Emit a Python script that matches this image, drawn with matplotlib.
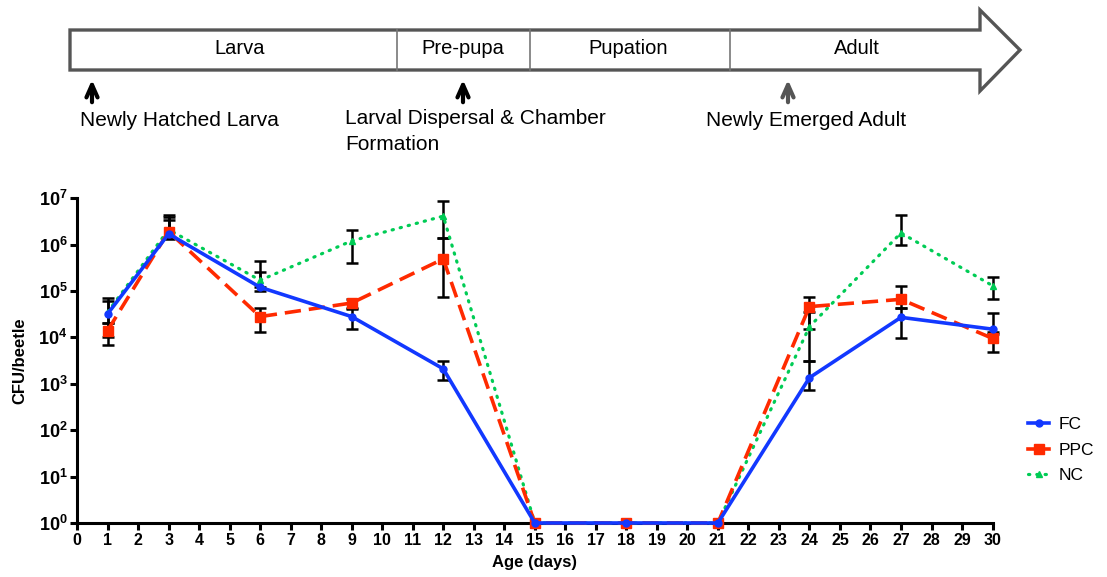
import matplotlib
matplotlib.use('Agg')
import matplotlib.pyplot as plt
from matplotlib.lines import Line2D
from matplotlib.patches import Polygon
import numpy as np

plt.rcParams['font.family'] = ['Liberation Sans', 'DejaVu Sans']
plt.rcParams['mathtext.fontset'] = 'custom'
plt.rcParams['mathtext.bf'] = 'Liberation Sans:bold'
plt.rcParams['mathtext.rm'] = 'Liberation Sans:bold'

# --- data (CFU/beetle, mean and error bar ends) ---
days = [1, 3, 6, 9, 12, 15, 18, 21, 24, 27, 30]

fc     = [3.2e4, 1.7e6, 1.2e5, 2.8e4, 2.1e3, 1, 1, 1, 1.35e3, 2.7e4, 1.5e4]
fc_lo  = [2.0e4, 1.4e6, 1.0e5, 1.5e4, 1.2e3, 1, 1, 1, 7.3e2, 9.8e3, 1.2e4]
fc_hi  = [6.0e4, 3.4e6, 2.5e5, 4.0e4, 3.1e3, 1, 1, 1, 3.1e3, 4.4e4, 3.3e4]

ppc    = [1.4e4, 1.9e6, 2.8e4, 5.5e4, 4.9e5, 1, 1, 1, 4.6e4, 6.6e4, 9.5e3]
ppc_lo = [7.0e3, 1.35e6, 1.3e4, 4.4e4, 7.3e4, 1, 1, 1, 1.55e4, 4.4e4, 4.9e3]
ppc_hi = [2.0e4, 4.3e6, 4.4e4, 6.6e4, 1.4e6, 1, 1, 1, 7.4e4, 1.3e5, 1.3e4]

nc     = [3.5e4, 2.1e6, 1.7e5, 1.2e6, 4.1e6, 1, 1, 1, 1.7e4, 1.78e6, 1.3e5]
nc_lo  = [1.0e4, 1.4e6, 1.2e5, 4.0e5, 1.4e6, 1, 1, 1, 3.1e3, 1.0e6, 6.7e4]
nc_hi  = [7.1e4, 4.0e6, 4.5e5, 2.1e6, 8.5e6, 1, 1, 1, 3.6e4, 4.4e6, 2.0e5]

xtick_labels = [str(d) for d in range(0, 31)]
ytick_exp = [0, 1, 2, 3, 4, 5, 6, 7]

stages = ['Larva', 'Pre-pupa', 'Pupation', 'Adult']
events = ['Newly Hatched Larva', 'Larval Dispersal & Chamber\nFormation', 'Newly Emerged Adult']

# colours
c_fc = '#1238ff'
c_ppc = '#ff2a00'
c_nc = '#00cc55'

fig = plt.figure(figsize=(11.07, 5.77), dpi=100)

# --- top life-stage diagram, drawn in pixel coords ---
dax = fig.add_axes([0, 0, 1, 1])
dax.set_xlim(0, 1107)
dax.set_ylim(577, 0)
dax.axis('off')

arrow = Polygon([(70, 30), (980, 30), (980, 10), (1020, 50), (980, 91), (980, 70), (70, 70)],
                closed=True, facecolor='white', edgecolor='#555555', lw=2.4)
dax.add_patch(arrow)
for xd in [397, 530, 730]:
    dax.plot([xd, xd], [30, 70], color='#777777', lw=1.2)

stage_x = [240, 463, 628, 857]
for s, xs in zip(stages, stage_x):
    dax.text(xs, 48, s, ha='center', va='center', fontsize=14.5)

# event arrows
arrow_x = [92, 463, 788]
arrow_col = ['black', 'black', '#555555']
for xa, ca in zip(arrow_x, arrow_col):
    dax.annotate('', xy=(xa, 77), xytext=(xa, 105),
                 arrowprops=dict(arrowstyle='->,head_length=0.9,head_width=0.4',
                                 color=ca, lw=3.0))

dax.text(80, 120, events[0], ha='left', va='center', fontsize=15)
dax.text(345, 109, events[1], ha='left', va='top', fontsize=15, linespacing=1.45)
dax.text(706, 121, events[2], ha='left', va='center', fontsize=15)

# --- main plot ---
ax = fig.add_axes([0.0696, 0.0936, 0.827, 0.563])
ax.set_yscale('log')

x = np.array(days)
series = [
    (nc, nc_lo, nc_hi),
    (ppc, ppc_lo, ppc_hi),
    (fc, fc_lo, fc_hi),
]
for m, lo, hi in series:
    m = np.array(m); lo = np.array(lo); hi = np.array(hi)
    keep = m > 1
    ax.errorbar(x[keep], m[keep], yerr=[m[keep] - lo[keep], hi[keep] - m[keep]],
                fmt='none', ecolor='black', elinewidth=1.8, capsize=4, capthick=1.8,
                zorder=2, clip_on=False)

ax.plot(days, nc, color=c_nc, lw=2.3, linestyle=(0, (0.4, 2.2)), dash_capstyle='round',
        marker='^', ms=5, zorder=3, clip_on=False)
ax.plot(days, ppc, color=c_ppc, lw=2.6, linestyle=(0, (4.5, 2.2)),
        marker='s', ms=7, zorder=4, clip_on=False)
ax.plot(days, fc, color=c_fc, lw=2.6, linestyle='-',
        marker='o', ms=5, zorder=5, clip_on=False)

ax.set_xlim(0, 30)
ax.set_ylim(1, 1e7)
ax.set_xticks(range(0, 31), xtick_labels)
ax.set_yticks([10.0 ** e for e in ytick_exp],
              [r'$\mathbf{10^{%d}}$' % e for e in ytick_exp])
ax.minorticks_off()

for side in ['top', 'right']:
    ax.spines[side].set_visible(False)
for side in ['left', 'bottom']:
    ax.spines[side].set_linewidth(2.2)
ax.tick_params(axis='both', direction='out', length=5, width=2.2, pad=2)
for lab in ax.get_xticklabels():
    lab.set_fontweight('bold')
    lab.set_fontsize(11.5)
for lab in ax.get_yticklabels():
    lab.set_fontsize(13)

ax.set_xlabel('Age (days)', fontsize=12, fontweight='bold', labelpad=5)
ax.set_ylabel('CFU/beetle', fontsize=12, fontweight='bold', labelpad=8)

handles = [
    Line2D([], [], color=c_fc, lw=2.6, marker='o', ms=5),
    Line2D([], [], color=c_ppc, lw=2.6, marker='s', ms=7),
    Line2D([], [], color=c_nc, lw=2.3, linestyle=(0, (0.4, 2.2)), dash_capstyle='round',
           marker='^', ms=5),
]
fig.legend(handles, ['FC', 'PPC', 'NC'], loc='center left', bbox_to_anchor=(0.918, 0.22),
           frameon=False, fontsize=12.5, handlelength=1.2, handletextpad=0.55,
           labelspacing=0.6, borderpad=0.2)

fig.savefig('out.png', dpi=100)
